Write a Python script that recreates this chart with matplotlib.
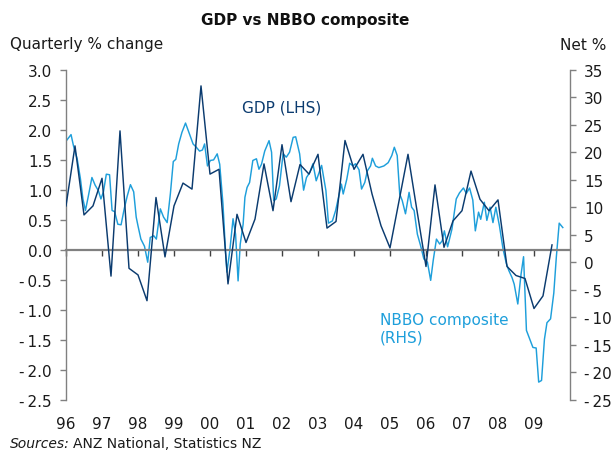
import numpy as np
import matplotlib
matplotlib.use("Agg")
import matplotlib.pyplot as plt
from matplotlib.ticker import FixedLocator, FuncFormatter

# ---------------- data ----------------
gdp_start = 1996
gdp_values = [
    0.73, 1.73, 0.58, 0.73,     # 1996
    1.19, -0.44, 1.98, -0.31,   # 1997
    -0.42, -0.85, 0.87, -0.12,  # 1998
    0.73, 1.11, 1.01, 2.73,     # 1999
    1.26, 1.34, -0.57, 0.59,    # 2000
    0.12, 0.51, 1.43, 0.65,     # 2001
    1.75, 0.80, 1.42, 1.26,     # 2002
    1.59, 0.36, 0.47, 1.82,     # 2003
    1.34, 1.59, 0.93, 0.40,     # 2004
    0.03, 0.81, 1.59, 0.65,     # 2005
    -0.28, 1.08, 0.04, 0.48,    # 2006
    0.65, 1.31, 0.84, 0.65,     # 2007
    0.83, -0.28, -0.43, -0.48,  # 2008
    -0.98, -0.77, 0.08,         # 2009
]

# NBBO composite: time (years after start of 1996) and net %
nbbo_time = [
    0.00, 0.14, 0.21, 0.31, 0.40, 0.47, 0.54, 0.62, 0.72, 0.81, 0.90, 0.97,
    1.04, 1.12, 1.21, 1.28, 1.35, 1.44, 1.53, 1.62, 1.70, 1.79, 1.88, 1.95,
    2.00, 2.08, 2.18, 2.27, 2.34, 2.44, 2.51, 2.62, 2.71, 2.81, 2.90, 2.98,
    3.05, 3.13, 3.22, 3.32, 3.42, 3.53, 3.62, 3.71, 3.79, 3.85, 3.93,
    4.01, 4.10, 4.20, 4.27, 4.36, 4.43, 4.47, 4.55, 4.64, 4.71, 4.78, 4.84, 4.92, 4.97,
    5.03, 5.10, 5.19, 5.29, 5.36, 5.43, 5.52, 5.64, 5.71, 5.77, 5.84, 5.93,
    6.03, 6.12, 6.21, 6.31, 6.38, 6.49, 6.60, 6.68, 6.77, 6.86, 6.95,
    7.10, 7.22, 7.29, 7.40, 7.49, 7.58, 7.65, 7.70, 7.80, 7.88, 7.97,
    8.04, 8.14, 8.21, 8.30, 8.37, 8.46, 8.51, 8.60, 8.69, 8.83, 8.95,
    9.05, 9.12, 9.20, 9.27, 9.34, 9.43, 9.53, 9.60, 9.67, 9.76, 9.85, 9.94,
    10.04, 10.13, 10.20, 10.29, 10.38, 10.45, 10.51, 10.60, 10.72, 10.84, 10.93,
    11.04, 11.12, 11.21, 11.30, 11.37, 11.46, 11.52, 11.62, 11.69, 11.78, 11.86, 11.94,
    12.04, 12.14, 12.23, 12.30, 12.39, 12.45, 12.55, 12.64, 12.71, 12.79, 12.90, 12.97,
    13.06, 13.13, 13.21, 13.29, 13.36, 13.46, 13.55, 13.62, 13.70, 13.80,
]
nbbo_values = [
    22.0, 23.2, 21.1, 18.8, 15.2, 11.5, 9.4, 12.0, 15.4, 14.0, 13.0, 11.5,
    12.8, 16.0, 15.9, 9.4, 9.2, 6.9, 6.8, 9.8, 12.0, 14.1, 12.8, 8.2,
    6.6, 4.2, 2.9, 0.0, 4.5, 4.8, 4.2, 9.7, 8.2, 7.2, 12.5, 18.3,
    18.7, 21.5, 23.6, 25.3, 23.5, 21.5, 20.9, 20.2, 20.4, 21.5, 17.5,
    18.5, 18.6, 19.7, 17.8, 10.6, 2.1, -1.8, 2.1, 7.9, 5.1, -3.4, 3.3, 6.9, 11.8,
    13.6, 14.5, 18.5, 18.8, 16.9, 17.8, 20.2, 22.1, 20.0, 11.2, 11.5, 13.9,
    19.7, 19.1, 20.0, 22.7, 22.8, 19.7, 13.1, 15.4, 16.3, 17.9, 14.8,
    17.6, 13.0, 7.1, 7.5, 9.4, 12.1, 14.2, 12.4, 15.1, 18.0, 17.5,
    17.9, 16.8, 13.3, 14.5, 16.6, 17.5, 18.9, 17.5, 17.2, 17.5, 18.1,
    19.4, 20.9, 19.4, 12.4, 11.2, 8.8, 12.7, 10.0, 9.4, 5.1, 3.0, 0.6,
    0.0, -3.3, 0.3, 4.2, 3.3, 3.9, 5.7, 2.8, 6.0, 11.5, 12.6,
    13.5, 12.5, 13.5, 11.3, 5.7, 9.1, 7.8, 10.9, 7.6, 10.0, 7.2, 10.0,
    6.6, 2.4, -0.2, -1.5, -2.8, -4.0, -7.6, -2.2, 1.0, -12.4, -14.3, -15.5,
    -15.6, -21.8, -21.5, -14.0, -11.0, -10.3, -5.6, 0.9, 7.1, 6.3,
]

year_ticks = list(range(1996, 2010))
year_labels = ["96", "97", "98", "99", "00", "01", "02", "03", "04", "05",
               "06", "07", "08", "09"]
left_ticks = [-2.5, -2.0, -1.5, -1.0, -0.5, 0.0, 0.5, 1.0, 1.5, 2.0, 2.5, 3.0]
right_ticks = [-25, -20, -15, -10, -5, 0, 5, 10, 15, 20, 25, 30, 35]

# ---------------- style ----------------
DARK = "#0B3B6F"
LIGHT = "#1E9FDB"
GREY = "#808080"
plt.rcParams["font.family"] = ["DejaVu Sans"]
FS = 11

fig = plt.figure(figsize=(6.11, 4.56), dpi=100)
ax = fig.add_axes([66 / 611, 1 - 400.7 / 456, (570 - 66) / 611, 330 / 456])
ax2 = ax.twinx()

gdp_x = gdp_start + np.arange(len(gdp_values)) / 4.0
nbbo_x = gdp_start + np.array(nbbo_time)

ax2.plot(nbbo_x, nbbo_values, color=LIGHT, lw=1.05, zorder=2)
ax.plot(gdp_x, gdp_values, color=DARK, lw=1.05, zorder=3)
ax.set_zorder(ax2.get_zorder() + 1)
ax.patch.set_visible(False)

ax.set_xlim(1996, 2010)
ax.set_ylim(-2.5, 3.0)
ax2.set_ylim(-25, 35)

def fmt_left(v, pos):
    s = f"{abs(v):.1f}"
    return ("-\u2009" + s) if v < 0 else s

def fmt_right(v, pos):
    s = f"{abs(int(round(v)))}"
    return ("-\u2009" + s) if v < 0 else s

ax.yaxis.set_major_locator(FixedLocator(left_ticks))
ax.yaxis.set_major_formatter(FuncFormatter(fmt_left))
ax2.yaxis.set_major_locator(FixedLocator(right_ticks))
ax2.yaxis.set_major_formatter(FuncFormatter(fmt_right))

for a in (ax, ax2):
    a.spines["top"].set_visible(False)
ax.spines["right"].set_visible(False)
ax2.spines["bottom"].set_visible(False)
ax2.spines["left"].set_visible(False)
ax.spines["left"].set_color(GREY)
ax2.spines["right"].set_color(GREY)
ax.spines["left"].set_linewidth(1.0)
ax2.spines["right"].set_linewidth(1.0)

# zero line carrying the year ticks
ax.spines["bottom"].set_position(("data", 0))
ax.spines["bottom"].set_color(GREY)
ax.spines["bottom"].set_linewidth(1.6)
ax.set_xticks(year_ticks)
ax.tick_params(axis="x", direction="out", length=4, width=1.0, color="#404040",
               labelbottom=False)

ax.tick_params(axis="y", direction="out", length=4, width=1.0, color=GREY,
               labelsize=FS, pad=6, labelcolor="#1a1a1a")
ax2.tick_params(axis="y", direction="out", length=4, width=1.0, color=GREY,
                labelsize=FS, pad=6, labelcolor="#1a1a1a")

# year labels at the bottom
sec = ax.secondary_xaxis("bottom")
sec.set_xticks(year_ticks)
sec.set_xticklabels(year_labels)
sec.tick_params(axis="x", length=0, pad=12, labelsize=FS, labelcolor="#1a1a1a")
for s in sec.spines.values():
    s.set_visible(False)

# texts
fig.text(0.5, 1 - 20 / 456, "GDP vs NBBO composite", ha="center", va="center",
         fontsize=11, fontweight="bold", color="#111111")
fig.text(10 / 611, 1 - 45 / 456, "Quarterly % change", ha="left", va="center",
         fontsize=FS, color="#1a1a1a")
fig.text(606 / 611, 1 - 45 / 456, "Net %", ha="right", va="center",
         fontsize=FS, color="#1a1a1a")
fig.text(10 / 611, 1 - 444 / 456, "Sources:", ha="left", va="center",
         fontsize=10, style="italic", color="#1a1a1a")
fig.text(73 / 611, 1 - 444 / 456, "ANZ National, Statistics NZ", ha="left",
         va="center", fontsize=10, color="#1a1a1a")

ax.text(1996 + (242 - 66) / 36, 2.38, "GDP (LHS)", ha="left", va="center",
        fontsize=FS, color=DARK)
ax2.text(1996 + (380 - 66) / 36, -12.0, "NBBO composite\n(RHS)", ha="left",
         va="center", fontsize=FS, color=LIGHT, linespacing=1.2)

fig.savefig("out.png", dpi=100)
